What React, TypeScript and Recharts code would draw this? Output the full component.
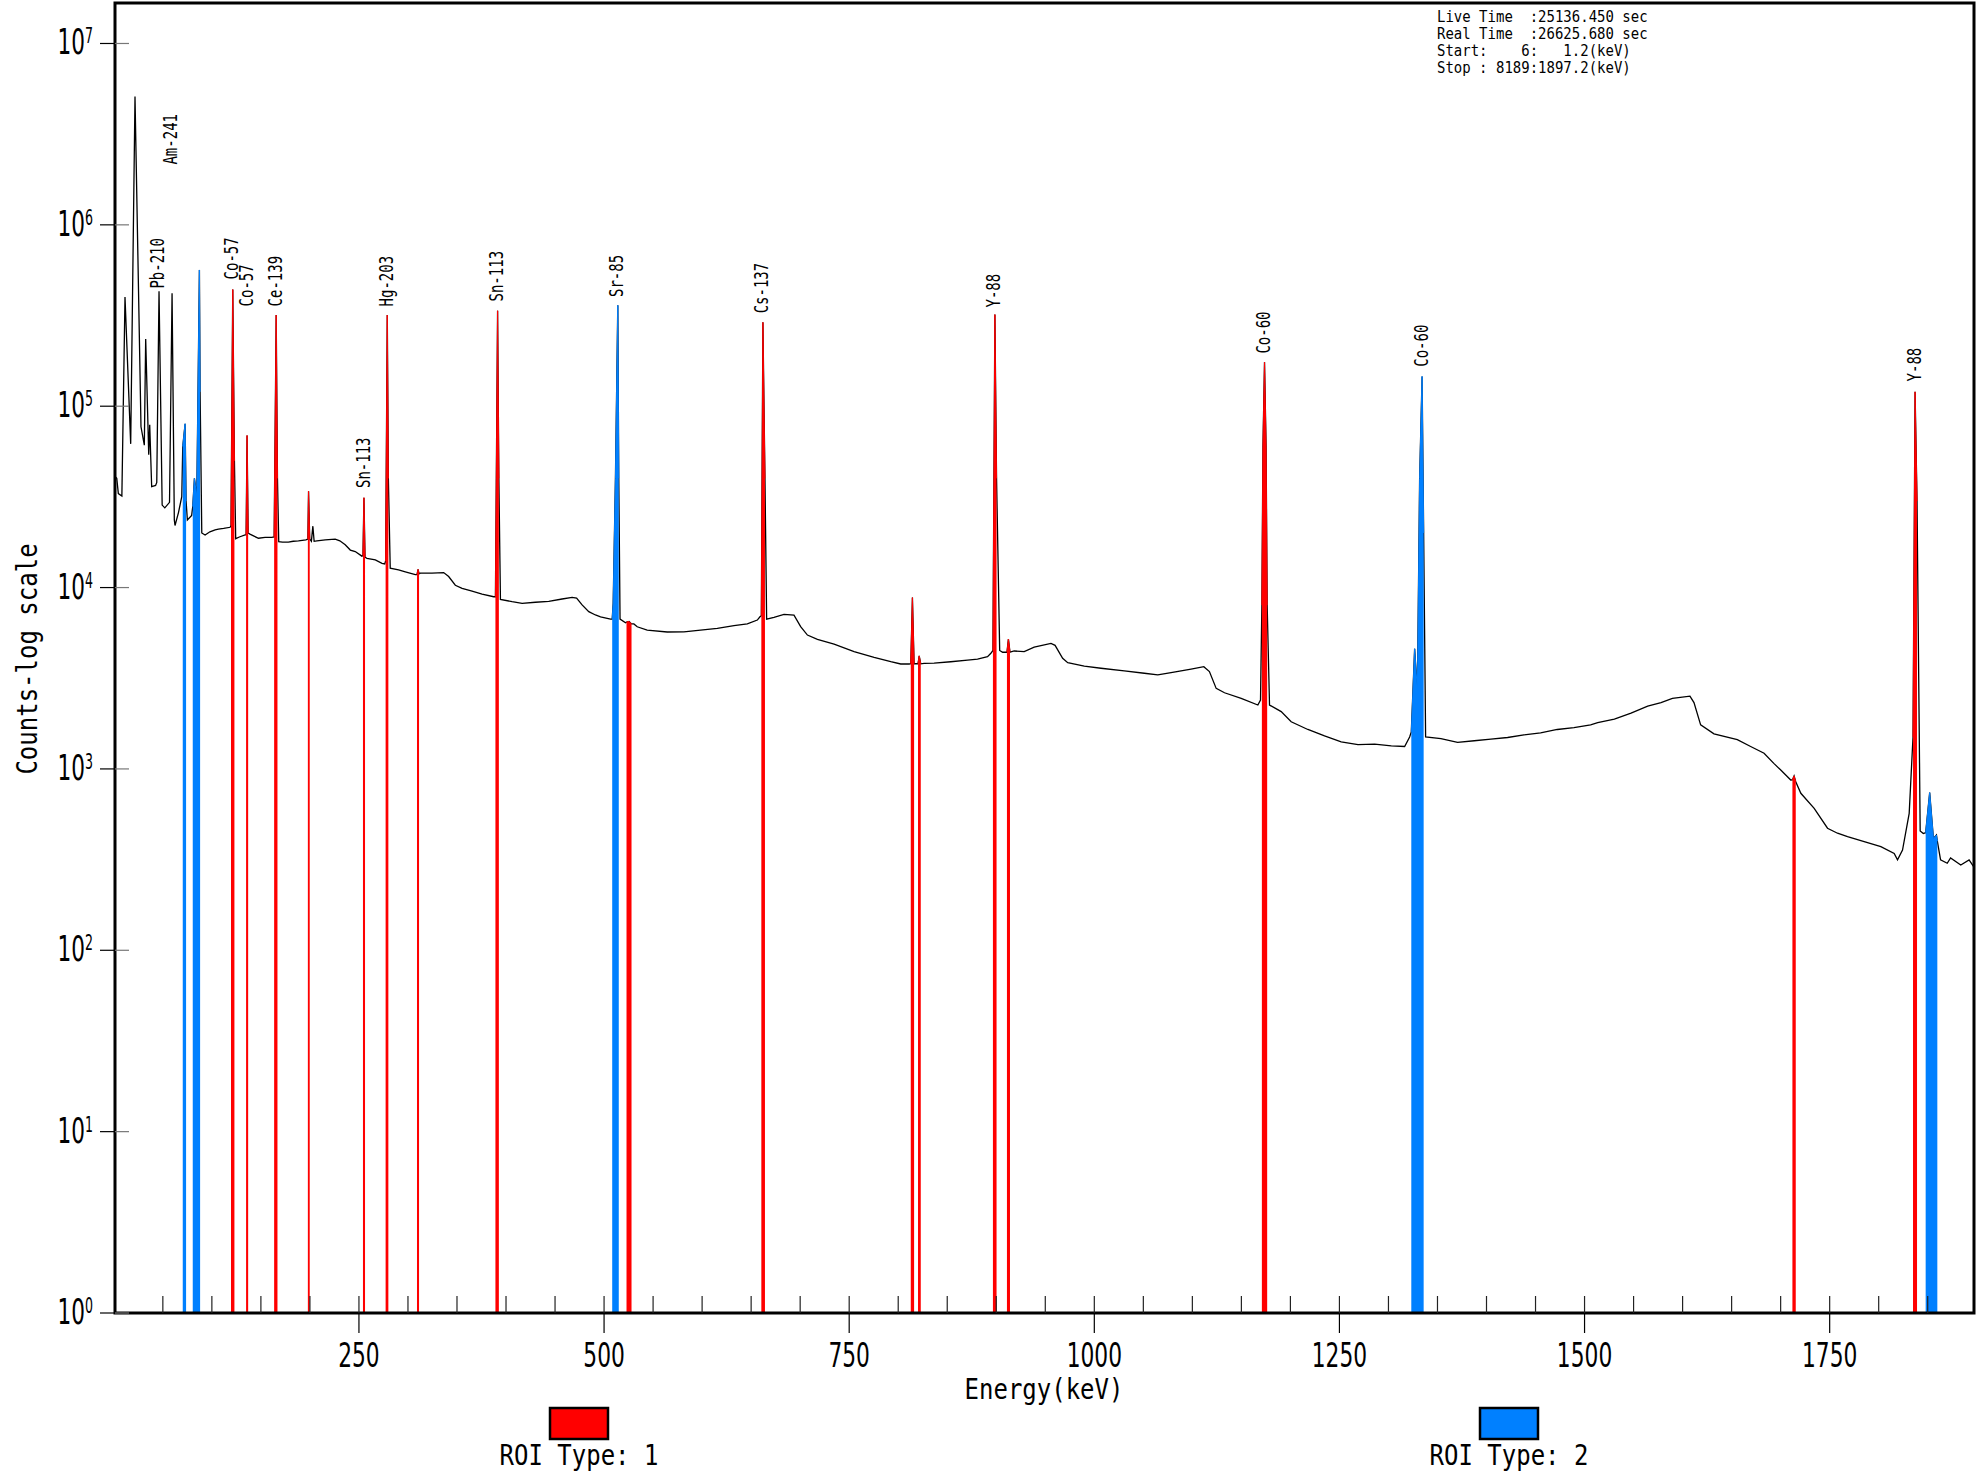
import React from 'react';
import { ComposedChart, Area, Scatter, XAxis, YAxis, ReferenceArea } from 'recharts';

// Spectrum: [energy keV, counts]
const spectrum: [number, number][] = [
  [1.2, 41000], [3.0, 40000], [4.6, 33000], [8.2, 32000], [11.4, 400000], [17.2, 62000],
  [21.6, 5100000], [27.7, 77000], [31.1, 61000], [32.5, 235000], [35.6, 54000], [36.6, 79000],
  [38.6, 36000], [42.6, 36600], [43.8, 38000], [46.1, 430000], [49.3, 28500], [52.0, 27500],
  [56.8, 29500], [59.4, 420000], [61.7, 23600], [62.4, 22000], [66.0, 26000], [69.3, 31700],
  [70.3, 60000], [72.7, 80000], [73.7, 30000], [75.0, 23600], [79.4, 25000], [80.5, 28000],
  [82.2, 40000], [84.6, 31700], [87.3, 564000], [88.0, 120000], [89.7, 20000], [93.1, 19500],
  [98.0, 20300], [103.3, 20800], [106.7, 21000], [112.0, 21200], [118.6, 21500], [119.5, 22000],
  [121.3, 440000], [123.0, 50000], [124.3, 18600], [128.0, 19000], [133.9, 19500], [134.9, 19500],
  [135.9, 69000], [137.0, 20000], [138.8, 19700], [143.0, 19200], [147.5, 18700], [154.3, 18900],
  [161.1, 18900], [163.5, 19000], [165.6, 318000], [166.9, 40000], [168.2, 17900], [172.0, 17800],
  [178.0, 17800], [183.0, 18000], [188.3, 18100], [195.9, 18300], [197.9, 18500], [198.6, 34000],
  [199.8, 18500], [201.5, 18000], [203.0, 21800], [204.3, 18000], [207.1, 18100], [215.6, 18300],
  [225.8, 18500], [230.5, 18100], [236.0, 17200], [241.2, 16100], [246.2, 15800], [253.0, 14900],
  [254.1, 15000], [255.1, 31300], [256.2, 14700], [258.2, 14500], [266.7, 14200], [273.5, 13600],
  [276.3, 13500], [277.2, 14000], [278.9, 318000], [280.0, 40000], [281.9, 12800], [290.4, 12500],
  [297.3, 12200], [307.5, 11800], [309.2, 11800], [310.3, 12600], [311.3, 11900], [312.6, 12000],
  [324.5, 12000], [336.4, 12100], [341.5, 11500], [348.3, 10300], [355.2, 9900], [365.4, 9570],
  [375.6, 9210], [387.4, 8900], [389.2, 8900], [391.4, 336000], [392.7, 40000], [394.3, 8610],
  [406.2, 8360], [416.4, 8190], [430.0, 8300], [443.6, 8400], [457.2, 8650], [467.4, 8830],
  [472.0, 8750], [477.6, 8020], [484.4, 7360], [491.2, 7060], [496.4, 6900], [506.6, 6700],
  [508.3, 6700], [509.3, 8200], [511.6, 40000], [514.0, 360000], [515.0, 40000], [516.3, 6700],
  [521.9, 6400], [522.9, 6450], [525.5, 6500], [528.0, 6300], [530.4, 6300], [533.8, 6080],
  [544.0, 5830], [564.4, 5690], [581.4, 5700], [598.4, 5830], [615.5, 5960], [632.5, 6170],
  [646.1, 6300], [656.3, 6620], [659.0, 6900], [660.4, 7000], [662.0, 290000], [664.1, 40000],
  [665.8, 6700], [673.3, 6850], [683.5, 7120], [693.7, 7050], [700.5, 6090], [707.4, 5470],
  [717.6, 5180], [734.6, 4880], [755.0, 4430], [775.4, 4120], [792.4, 3900], [802.6, 3790],
  [811.1, 3790], [812.8, 3800], [814.5, 8800], [816.2, 3800], [817.8, 3800], [820.2, 3800],
  [821.4, 4200], [823.0, 3800], [826.4, 3820], [836.6, 3830], [853.6, 3900], [870.7, 3980],
  [880.9, 4030], [891.1, 4160], [894.5, 4340], [896.6, 4500], [898.6, 320000], [900.3, 40000],
  [903.5, 4500], [906.5, 4400], [910.9, 4400], [912.4, 5200], [914.0, 4400], [918.3, 4470],
  [928.5, 4430], [938.7, 4690], [955.8, 4920], [960.0, 4800], [967.7, 4070], [972.9, 3850],
  [989.8, 3690], [1006.8, 3590], [1030.6, 3470], [1051.0, 3370], [1064.7, 3300], [1078.3, 3400],
  [1098.7, 3550], [1111.7, 3660], [1117.4, 3440], [1124.3, 2780], [1132.8, 2630], [1149.8, 2450],
  [1166.8, 2250], [1169.5, 2400], [1170.9, 8000], [1172.0, 60000], [1173.6, 175000], [1175.2, 60000],
  [1176.3, 8000], [1178.7, 2250], [1190.6, 2070], [1200.8, 1820], [1217.8, 1650], [1234.8, 1520],
  [1251.8, 1410], [1268.9, 1360], [1285.9, 1370], [1302.9, 1340], [1316.5, 1330], [1321.6, 1500],
  [1323.3, 1600], [1326.7, 4600], [1329.5, 2700], [1331.8, 40000], [1334.3, 146000], [1335.9, 20000],
  [1337.9, 1500], [1353.5, 1470], [1370.5, 1400], [1387.5, 1430], [1404.5, 1460], [1421.5, 1490],
  [1438.2, 1540], [1455.2, 1580], [1472.2, 1650], [1489.2, 1690], [1506.2, 1750], [1513.4, 1800],
  [1530.4, 1880], [1547.4, 2030], [1564.4, 2220], [1578.0, 2320], [1589.6, 2450], [1607.5, 2520],
  [1611.6, 2320], [1618.4, 1750], [1632.0, 1560], [1655.8, 1450], [1669.4, 1330], [1683.1, 1220],
  [1693.3, 1070], [1700.1, 986], [1710.3, 869], [1712.0, 870], [1713.7, 915], [1715.4, 850],
  [1720.6, 734], [1734.2, 606], [1747.8, 471], [1758.0, 442], [1768.2, 423], [1785.2, 397],
  [1802.2, 373], [1815.8, 342], [1819.2, 315], [1824.3, 357], [1831.1, 569], [1835.0, 1500],
  [1837.1, 120000], [1839.1, 30000], [1842.3, 455], [1845.5, 440], [1847.9, 445], [1852.0, 740],
  [1855.8, 414], [1858.9, 432], [1859.8, 400], [1863.1, 315], [1869.9, 302], [1873.3, 323],
  [1883.7, 295], [1892.2, 315], [1896.8, 289],
];

// ROI ranges [start keV, end keV]
const roiType1: [number, number][] = [
  [119.5, 123.0], [134.9, 137.0], [163.5, 166.9], [197.9, 199.8], [254.1, 256.2], [277.2, 280.0],
  [309.2, 311.3], [389.2, 392.7], [522.9, 528.0], [660.4, 664.1], [812.8, 816.2], [820.2, 823.0],
  [896.6, 900.3], [910.9, 914.0], [1170.9, 1176.3], [1712.0, 1715.4], [1835.0, 1839.1],
];
const roiType2: [number, number][] = [
  [70.3, 73.7], [80.5, 88.0], [508.3, 515.0], [1323.3, 1335.9], [1847.9, 1859.8],
];

// Peak labels: nuclide, energy (keV), count level of label start
const labelNames = ['Am-241', 'Pb-210', 'Co-57', 'Co-57', 'Ce-139', 'Sn-113', 'Hg-203', 'Sn-113', 'Sr-85', 'Cs-137', 'Y-88', 'Co-60', 'Co-60', 'Y-88'];
const labelEnergies = [57.6, 44.5, 119.6, 134.4, 164.0, 253.8, 277.5, 390.0, 512.5, 660.5, 897.0, 1172.0, 1332.8, 1835.5];
const labelCounts = [2150000, 445000, 500000, 355000, 355000, 35400, 355000, 378000, 400000, 325000, 350000, 195000, 165000, 137000];

const xTicks = [50, 100, 150, 200, 250, 300, 350, 400, 450, 500, 550, 600, 650, 700, 750, 800, 850, 900, 950, 1000,
  1050, 1100, 1150, 1200, 1250, 1300, 1350, 1400, 1450, 1500, 1550, 1600, 1650, 1700, 1750, 1800, 1850];
const xMajor = [250, 500, 750, 1000, 1250, 1500, 1750];
const yTicks = [1, 10, 100, 1000, 10000, 100000, 1000000, 10000000];
const yExponents = ['0', '1', '2', '3', '4', '5', '6', '7'];

const infoLines = [
  'Live Time  :25136.450 sec',
  'Real Time  :26625.680 sec',
  'Start:    6:   1.2(keV)',
  'Stop : 8189:1897.2(keV)',
];
const xAxisTitle = 'Energy(keV)';
const yAxisTitle = 'Counts-log scale';
const legendItems = ['ROI Type: 1', 'ROI Type: 2'];

const X_DOMAIN: [number, number] = [1.2, 1897.2];
const Y_DOMAIN: [number, number] = [1, 16720000];

const RED = '#ff0000';
const BLUE = '#0080ff';
const MONO = 'DejaVu Sans Mono, monospace';
const SANS = 'DejaVu Sans, sans-serif';

const inRoi = (e: number, rois: [number, number][]) => rois.some(([a, b]) => e >= a - 1e-6 && e <= b + 1e-6);

const table = spectrum.map(([e, c]) => ({
  e,
  c,
  red: inRoi(e, roiType1) ? c : null,
  blue: inRoi(e, roiType2) ? c : null,
}));

const peakLabels = labelNames.map((name, i) => ({ name, e: labelEnergies[i], lc: labelCounts[i] }));

const XTick = (props: any) => {
  const { x, y, payload } = props;
  const v = payload.value;
  const major = xMajor.includes(v);
  return (
    <g>
      <line x1={x} y1={y} x2={x} y2={y - 17} stroke="#222" strokeWidth={1.2} />
      {major && <line x1={x} y1={y} x2={x} y2={y + 20} stroke="#000" strokeWidth={1.2} />}
      {major && (
        <text transform={`translate(${x},${y + 54}) scale(0.64,1)`} textAnchor="middle" fontFamily={SANS} fontSize={34} fill="#000">
          {v}
        </text>
      )}
    </g>
  );
};

const YTick = (props: any) => {
  const { x, y, payload, index } = props;
  const idx = yTicks.indexOf(payload.value);
  const exp = yExponents[idx >= 0 ? idx : index];
  return (
    <g>
      <line x1={x - 15} y1={y} x2={x} y2={y} stroke="#000" strokeWidth={1.2} />
      <line x1={x} y1={y} x2={x + 14} y2={y} stroke="#777" strokeWidth={1.2} />
      <text transform={`translate(${x - 22},${y + 11}) scale(0.6,1)`} textAnchor="end" fontFamily={SANS} fontSize={36} fill="#000">
        10
        <tspan fontSize={21} dy={-11}>{exp}</tspan>
      </text>
    </g>
  );
};

const PeakLabel = (props: any) => {
  const { cx, cy, payload } = props;
  if (cx == null || cy == null) return <g />;
  return (
    <text
      transform={`translate(${cx + 7},${cy}) rotate(-90) scale(1,1.4)`}
      fontFamily={MONO}
      fontSize={14}
      fill="#000"
    >
      {payload.name}
    </text>
  );
};

export default function App() {
  return (
    <div style={{ position: 'absolute', left: 0, top: 0, width: 1987, height: 1476, background: '#fff' }}>
      <ComposedChart
        width={1987}
        height={1476}
        data={table}
        margin={{ top: 3, right: 13, left: 0, bottom: 0 }}
      >
        <XAxis
          dataKey="e"
          type="number"
          domain={X_DOMAIN}
          allowDataOverflow
          ticks={xTicks}
          interval={0}
          tick={<XTick />}
          tickSize={0}
          tickMargin={0}
          tickLine={false}
          axisLine={false}
          height={163}
        />
        <YAxis
          type="number"
          scale="log"
          domain={Y_DOMAIN}
          allowDataOverflow
          ticks={yTicks}
          interval={0}
          tick={<YTick />}
          tickSize={0}
          tickMargin={0}
          tickLine={false}
          axisLine={false}
          width={115}
        />
        <Area
          dataKey="c"
          type="linear"
          stroke="#000"
          strokeWidth={1.3}
          fill="none"
          fillOpacity={0}
          baseValue={1}
          dot={false}
          activeDot={false}
          isAnimationActive={false}
        />
        <Area
          dataKey="red"
          type="linear"
          stroke={RED}
          strokeWidth={1}
          fill={RED}
          fillOpacity={1}
          baseValue={1}
          connectNulls={false}
          dot={false}
          activeDot={false}
          isAnimationActive={false}
        />
        <Area
          dataKey="blue"
          type="linear"
          stroke={BLUE}
          strokeWidth={1}
          fill={BLUE}
          fillOpacity={1}
          baseValue={1}
          connectNulls={false}
          dot={false}
          activeDot={false}
          isAnimationActive={false}
        />
        <Scatter data={peakLabels} dataKey="lc" shape={<PeakLabel />} isAnimationActive={false} />
        <ReferenceArea
          x1={X_DOMAIN[0]}
          x2={X_DOMAIN[1]}
          y1={Y_DOMAIN[0]}
          y2={Y_DOMAIN[1]}
          fill="none"
          fillOpacity={0}
          stroke="#000"
          strokeWidth={3}
          ifOverflow="visible"
        />
      </ComposedChart>
      <svg width={1987} height={1476} style={{ position: 'absolute', left: 0, top: 0, pointerEvents: 'none' }}>
        {infoLines.map((t, i) => (
          <text
            key={i}
            transform={`translate(1437,${21.5 + i * 17}) scale(1,1.15)`}
            fontFamily={MONO}
            fontSize={14}
            fill="#000"
            style={{ whiteSpace: 'pre' }}
          >
            {t}
          </text>
        ))}
        <text transform="translate(1044,1399) scale(1,1.15)" textAnchor="middle" fontFamily={MONO} fontSize={24} fill="#000">
          {xAxisTitle}
        </text>
        <text transform="translate(37,659) rotate(-90) scale(1,1.15)" textAnchor="middle" fontFamily={MONO} fontSize={24} fill="#000">
          {yAxisTitle}
        </text>
        <rect x={550} y={1408} width={58} height={31} fill={RED} stroke="#000" strokeWidth={2.5} />
        <text transform="translate(579,1465) scale(1,1.15)" textAnchor="middle" fontFamily={MONO} fontSize={24} fill="#000" style={{ whiteSpace: 'pre' }}>
          {legendItems[0]}
        </text>
        <rect x={1480} y={1408} width={58} height={31} fill={BLUE} stroke="#000" strokeWidth={2.5} />
        <text transform="translate(1509,1465) scale(1,1.15)" textAnchor="middle" fontFamily={MONO} fontSize={24} fill="#000" style={{ whiteSpace: 'pre' }}>
          {legendItems[1]}
        </text>
      </svg>
    </div>
  );
}
